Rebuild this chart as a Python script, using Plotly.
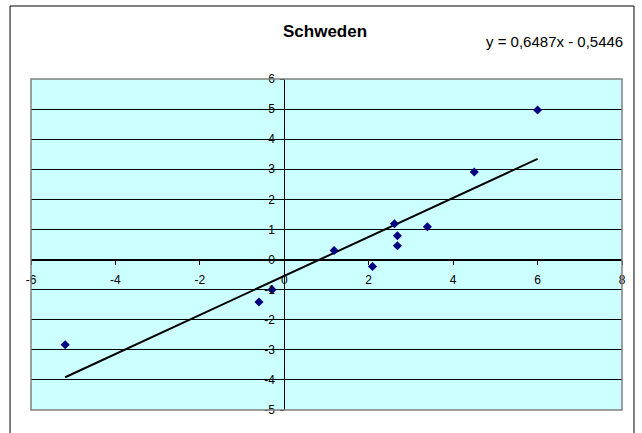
import plotly.graph_objects as go

# Schweden: observed pairs
x_vals = [-5.19, -0.60, -0.29, 1.18, 2.09, 2.61, 2.68, 2.68, 3.39, 4.50, 6.00]
y_vals = [-2.83, -1.41, -1.00, 0.30, -0.23, 1.19, 0.79, 0.46, 1.09, 2.91, 4.97]

# linear trend as stated in the equation label
slope = 0.6487
intercept = -0.5446
trend_x = [min(x_vals), max(x_vals)]
trend_y = [slope * v + intercept for v in trend_x]

x_range = [-6, 8]
y_range = [-5, 6]
x_ticks = [-6, -4, -2, 0, 2, 4, 6, 8]
y_ticks = [-5, -4, -3, -2, -1, 0, 1, 2, 3, 4, 5, 6]
x_tick_labels = [str(v) for v in x_ticks]
y_tick_labels = [str(v) for v in y_ticks]
title_text = "Schweden"
equation_text = "y = 0,6487x - 0,5446"

font_family = "Liberation Sans, Arial, sans-serif"

fig = go.Figure()
fig.add_trace(go.Scatter(
    x=trend_x, y=trend_y, mode="lines",
    line=dict(color="black", width=2), hoverinfo="skip", showlegend=False,
))
fig.add_trace(go.Scatter(
    x=x_vals, y=y_vals, mode="markers",
    marker=dict(symbol="diamond", color="#000080", size=7),
    showlegend=False,
))

# axes cross at the origin
x_pos = (0 - y_range[0]) / (y_range[1] - y_range[0])
y_pos = (0 - x_range[0]) / (x_range[1] - x_range[0])

fig.update_layout(
    width=642, height=433,
    margin=dict(l=31, r=20, t=79, b=23),
    paper_bgcolor="white",
    plot_bgcolor="#CCFFFF",
    font=dict(family=font_family, size=12, color="black"),
    xaxis=dict(
        range=x_range, tickmode="array",
        tickvals=x_ticks, ticktext=x_tick_labels,
        showgrid=False, zeroline=False,
        showline=True, linecolor="black", linewidth=1,
        ticks="outside", ticklen=4, tickcolor="black",
        anchor="free", position=x_pos,
        ticklabelstandoff=5,
        tickfont=dict(size=12),
    ),
    yaxis=dict(
        range=y_range, tickmode="array",
        tickvals=y_ticks, ticktext=y_tick_labels,
        showgrid=True, gridcolor="black", gridwidth=1,
        zeroline=False,
        showline=True, linecolor="black", linewidth=1,
        ticks="outside", ticklen=4, tickcolor="black",
        anchor="free", position=y_pos,
        ticklabelstandoff=3,
        tickfont=dict(size=12),
    ),
    shapes=[
        # plot area frame
        dict(type="rect", xref="paper", yref="paper", x0=0, x1=1, y0=0, y1=1,
             line=dict(color="#808080", width=1.5), layer="above"),
        # chart frame
        dict(type="rect", xref="paper", yref="paper",
             x0=-0.0355, x1=1.0203, y0=-0.2, y1=1.2205,
             line=dict(color="black", width=1)),
    ],
    annotations=[
        dict(text="<b>" + title_text + "</b>", xref="paper", yref="paper",
             x=0.4975, y=1.143, xanchor="center", yanchor="middle",
             showarrow=False, font=dict(size=17)),
        dict(text=equation_text, xref="paper", yref="paper",
             x=0.8866, y=1.1127, xanchor="center", yanchor="middle",
             showarrow=False, font=dict(size=15)),
    ],
)

fig.write_html("out.html")
